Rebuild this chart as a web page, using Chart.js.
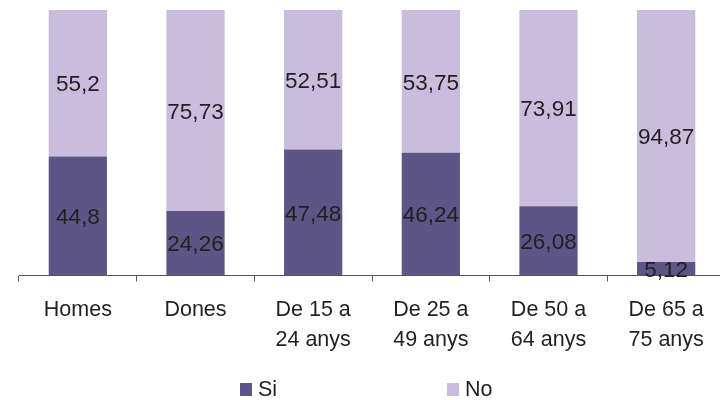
<!DOCTYPE html>
<html>
<head>
<meta charset="utf-8">
<script src="https://cdn.jsdelivr.net/npm/chart.js@4/dist/chart.umd.min.js"></script>
<style>
  html, body { margin: 0; padding: 0; background: #fff; overflow: hidden; }
  #wrap { width: 725px; height: 400px; }
</style>
</head>
<body>
<div id="wrap"><canvas id="chart"></canvas></div>
<script>
const categories = [['Homes'], ['Dones'], ['De 15 a', '24 anys'], ['De 25 a', '49 anys'], ['De 50 a', '64 anys'], ['De 65 a', '75 anys']];
const siValues = [44.8, 24.26, 47.48, 46.24, 26.08, 5.12];
const noValues = [55.2, 75.73, 52.51, 53.75, 73.91, 94.87];

const textColor = '#231f20';
const fontFamily = '"Liberation Sans", Arial, sans-serif';

// value labels centred in each segment, decimal comma
const valueLabels = {
    id: 'valueLabels',
    afterDatasetsDraw(chart) {
        const ctx = chart.ctx;
        ctx.save();
        ctx.font = '22.5px ' + fontFamily;
        ctx.fillStyle = textColor;
        ctx.textAlign = 'center';
        ctx.textBaseline = 'middle';
        chart.data.datasets.forEach((ds, i) => {
            chart.getDatasetMeta(i).data.forEach((bar, j) => {
                const p = bar.getProps(['x', 'y', 'base'], true);
                ctx.fillText(String(ds.data[j]).replace('.', ','), p.x, (p.y + p.base) / 2 + 2);
            });
        });
        ctx.restore();
    }
};

// legend with wide spacing between the two items
const wideLegend = {
    id: 'wideLegend',
    afterDraw(chart) {
        const ctx = chart.ctx;
        const stride = 207;
        const y = 390;
        const start = 240;
        ctx.save();
        ctx.font = '21.5px ' + fontFamily;
        ctx.textBaseline = 'middle';
        ctx.textAlign = 'left';
        chart.data.datasets.forEach((ds, i) => {
            const x = start + i * stride;
            ctx.fillStyle = ds.backgroundColor;
            ctx.fillRect(x, y - 7, 12, 13);
            ctx.fillStyle = textColor;
            ctx.fillText(ds.label, x + 18, y);
        });
        ctx.restore();
    }
};

new Chart(document.getElementById('chart'), {
    type: 'bar',
    data: {
        labels: categories,
        datasets: [
            { label: 'Si', data: siValues, backgroundColor: '#5d5585' },
            { label: 'No', data: noValues, backgroundColor: '#c9bcdd' }
        ]
    },
    options: {
        responsive: true,
        maintainAspectRatio: false,
        animation: false,
        layout: { padding: { left: 19, top: 10, right: 0, bottom: 0 } },
        datasets: { bar: { categoryPercentage: 1, barPercentage: 0.495 } },
        scales: {
            x: {
                stacked: true,
                afterFit: function(scale) { scale.height = 124.5; },
                grid: { display: true, drawOnChartArea: false, drawTicks: true, tickLength: 6, color: '#555', offset: true },
                border: { display: true, color: '#555', width: 1 },
                ticks: { color: textColor, font: { family: fontFamily, size: 21.5, lineHeight: 1.37 }, padding: 14, maxRotation: 0 }
            },
            y: {
                stacked: true,
                display: false,
                min: 0,
                max: 100
            }
        },
        plugins: {
            legend: { display: false },
            tooltip: { enabled: false }
        }
    },
    plugins: [valueLabels, wideLegend]
});
</script>
</body>
</html>
